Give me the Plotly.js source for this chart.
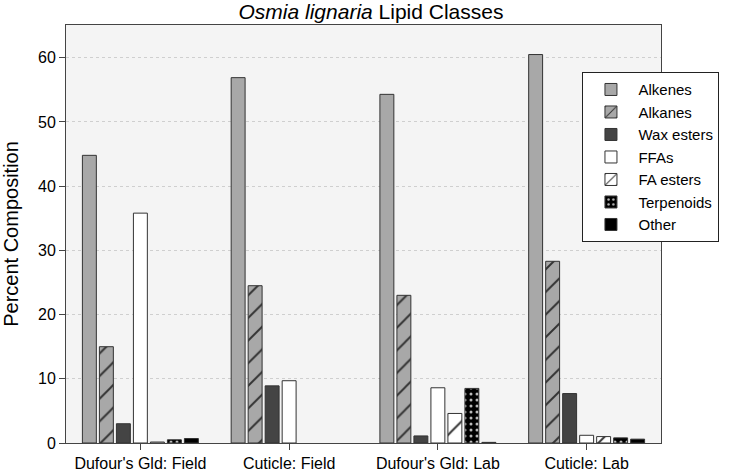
<!DOCTYPE html>
<html>
<head>
<meta charset="utf-8">
<script src="https://cdn.plot.ly/plotly-3.0.1.min.js"></script>
<style>
  body { margin: 0; background: #fff; }
  #plot { width: 742px; height: 474px; }
</style>
</head>
<body>
<div id="plot"></div>
<script>
// categories on the x axis
var groups = ["Dufour's Gld: Field", "Cuticle: Field", "Dufour's Gld: Lab", "Cuticle: Lab"];

// percent composition per lipid class, one value per group (null = not detected)
var alkenes    = [44.8, 56.9, 54.3, 60.5];
var alkanes    = [15.0, 24.5, 23.0, 28.3];
var waxEsters  = [3.0, 8.9, 1.1, 7.7];
var ffas       = [35.8, 9.7, 8.6, 1.2];
var faEsters   = [0.15, null, 4.6, 1.0];
var terpenoids = [0.5, null, 8.5, 0.8];
var other      = [0.7, null, 0.1, 0.6];

var yTicks = [0, 10, 20, 30, 40, 50, 60];

var edge = { color: '#333', width: 1 };

function bar(name, y, color, pattern) {
    var marker = { color: color, line: edge };
    if (pattern) marker.pattern = pattern;
    return { type: 'bar', name: name, x: groups, y: y, marker: marker };
}

var data = [
    bar('Alkenes', alkenes, '#a8a8a8'),
    bar('Alkanes', alkanes, '#a8a8a8',
        { shape: '/', bgcolor: '#a8a8a8', fgcolor: '#333', size: 16, solidity: 0.12 }),
    bar('Wax esters', waxEsters, '#444'),
    bar('FFAs', ffas, '#fff'),
    bar('FA esters', faEsters, '#fff',
        { shape: '/', bgcolor: '#fff', fgcolor: '#333', size: 16, solidity: 0.12 }),
    bar('Terpenoids', terpenoids, '#000',
        { shape: '.', bgcolor: '#000', fgcolor: '#bbb', size: 6, solidity: 0.2 }),
    bar('Other', other, '#000')
];

var layout = {
    width: 742,
    height: 474,
    margin: { l: 66, r: 81, t: 25, b: 31 },
    paper_bgcolor: '#fff',
    plot_bgcolor: '#f4f4f4',
    font: { family: 'Liberation Sans, Arial, sans-serif', size: 16, color: '#000' },
    title: {
        text: '<i>Osmia lignaria</i> Lipid Classes',
        font: { size: 21 },
        x: 0.5, xanchor: 'center', y: 0.975, yanchor: 'middle'
    },
    barmode: 'group',
    bargap: 0.2,
    bargroupgap: 0.18,
    showlegend: true,
    legend: {
        x: 0.868, xanchor: 'left', y: 0.887, yanchor: 'top',
        bgcolor: '#fff', bordercolor: '#222', borderwidth: 1,
        font: { size: 15 }, tracegroupgap: 0, itemwidth: 45
    },
    xaxis: {
        showline: true, linecolor: '#444', linewidth: 1, mirror: true,
        ticks: 'outside', ticklen: 6, tickcolor: '#444',
        tickfont: { size: 16 }
    },
    yaxis: {
        title: { text: 'Percent Composition', font: { size: 20 }, standoff: 14 },
        range: [0, 65.1],
        tickvals: yTicks,
        ticks: 'outside', ticklen: 6, tickcolor: '#444',
        showline: true, linecolor: '#444', linewidth: 1, mirror: true,
        showgrid: true, gridcolor: '#cfcfcf', griddash: 'dot', gridwidth: 1,
        zeroline: false,
        tickfont: { size: 16 }
    }
};

Plotly.newPlot('plot', data, layout, { displayModeBar: false, staticPlot: true });
</script>
</body>
</html>
